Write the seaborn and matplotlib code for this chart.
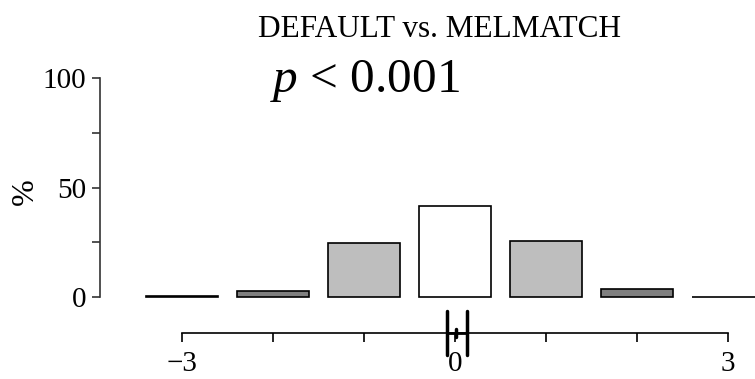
import matplotlib
matplotlib.use("Agg")
import matplotlib.pyplot as plt
import seaborn as sns
import pandas as pd

# Distribution of score differences (percent of trials)
scores = [-3, -2, -1, 0, 1, 2, 3]
percent = [0.5, 2.7, 24.7, 41.5, 25.6, 3.7, 0.15]
bar_colors = ["#000000", "#7f7f7f", "#bebebe", "#ffffff", "#bebebe", "#7f7f7f", "#000000"]
xtick_labels = ["\u22123", "", "", "0", "", "", "3"]
yticks_major = [0, 50, 100]
yticks_minor = [25, 75]

# Mean difference with its confidence interval
ci_low, ci_mean, ci_high = -0.09, 0.01, 0.13

title = "DEFAULT vs. MELMATCH"
p_text = "$\\mathit{p}$ < 0.001"

sns.set_theme(style="white")
plt.rcParams["font.family"] = ["Liberation Serif", "DejaVu Serif"]
plt.rcParams["mathtext.fontset"] = "custom"
plt.rcParams["mathtext.it"] = "Liberation Serif:italic"
plt.rcParams["mathtext.rm"] = "Liberation Serif"
plt.rcParams["text.color"] = "black"
plt.rcParams["axes.labelcolor"] = "black"
plt.rcParams["xtick.color"] = "black"
plt.rcParams["ytick.color"] = "black"

W, H = 755, 379
fig = plt.figure(figsize=(W / 100, H / 100), dpi=100)

x_lo, x_hi = -3.9, 3.5
unit = 91.0
ax_left = 100 / W
ax_width = (x_hi - x_lo) * unit / W

# Bars panel
ax = fig.add_axes([ax_left, 82 / H, ax_width, 219 / H])
df = pd.DataFrame({"score": scores, "percent": percent})
sns.barplot(data=df, x="score", y="percent", hue="score", palette=bar_colors,
            native_scale=True, width=0.8, edgecolor="black", linewidth=1.2,
            legend=False, ax=ax)
for patch in ax.patches:
    patch.set_clip_on(False)
ax.set_xlim(x_lo, x_hi)
ax.set_ylim(0, 100)
for side in ["top", "right", "bottom"]:
    ax.spines[side].set_visible(False)
ax.spines["left"].set_color("#333333")
ax.spines["left"].set_linewidth(1.2)
ax.set_xticks([])
ax.set_xlabel("")
ax.set_ylabel("")
ax.set_yticks(yticks_major)
ax.set_yticks(yticks_minor, minor=True)
ax.set_yticklabels([str(v) for v in yticks_major], fontsize=21)
ax.tick_params(axis="y", which="both", direction="out", length=6, width=1.2,
               color="#333333", left=True, pad=4)
fig.text(25 / W, 1 - 192 / H, "%", rotation=90, ha="center", va="center", fontsize=23)

# Score axis with confidence interval
ax2 = fig.add_axes([ax_left, 0, ax_width, 46 / H])
ax2.set_xlim(x_lo, x_hi)
ax2.set_ylim(-1, 0)
ax2.patch.set_visible(False)
for side in ["top", "right", "left"]:
    ax2.spines[side].set_visible(False)
ax2.spines["bottom"].set_position(("axes", 1.0))
ax2.spines["bottom"].set_bounds(scores[0], scores[-1])
ax2.spines["bottom"].set_color("black")
ax2.spines["bottom"].set_linewidth(1.2)
ax2.set_yticks([])
ax2.set_xticks(scores)
ax2.set_xticklabels(xtick_labels, fontsize=21)
ax2.tick_params(axis="x", direction="out", length=6.2, width=1.2, color="black",
                bottom=True, pad=6.5)
for xv in (ci_low, ci_high):
    ax2.plot([xv, xv], [-22 / 46, 22 / 46], color="black", lw=2.5, clip_on=False)
ax2.plot([ci_low, ci_high], [0, 0], color="black", lw=2.0, clip_on=False)
ax2.plot([ci_mean, ci_mean], [-4 / 46, 4 / 46], color="black", lw=2.5, clip_on=False)

fig.text(440 / W, 1 - 37 / H, title, ha="center", va="baseline", fontsize=22.5)
fig.text(270 / W, 1 - 92 / H, p_text, ha="left", va="baseline", fontsize=35.5)

fig.savefig("out.png", dpi=100)
